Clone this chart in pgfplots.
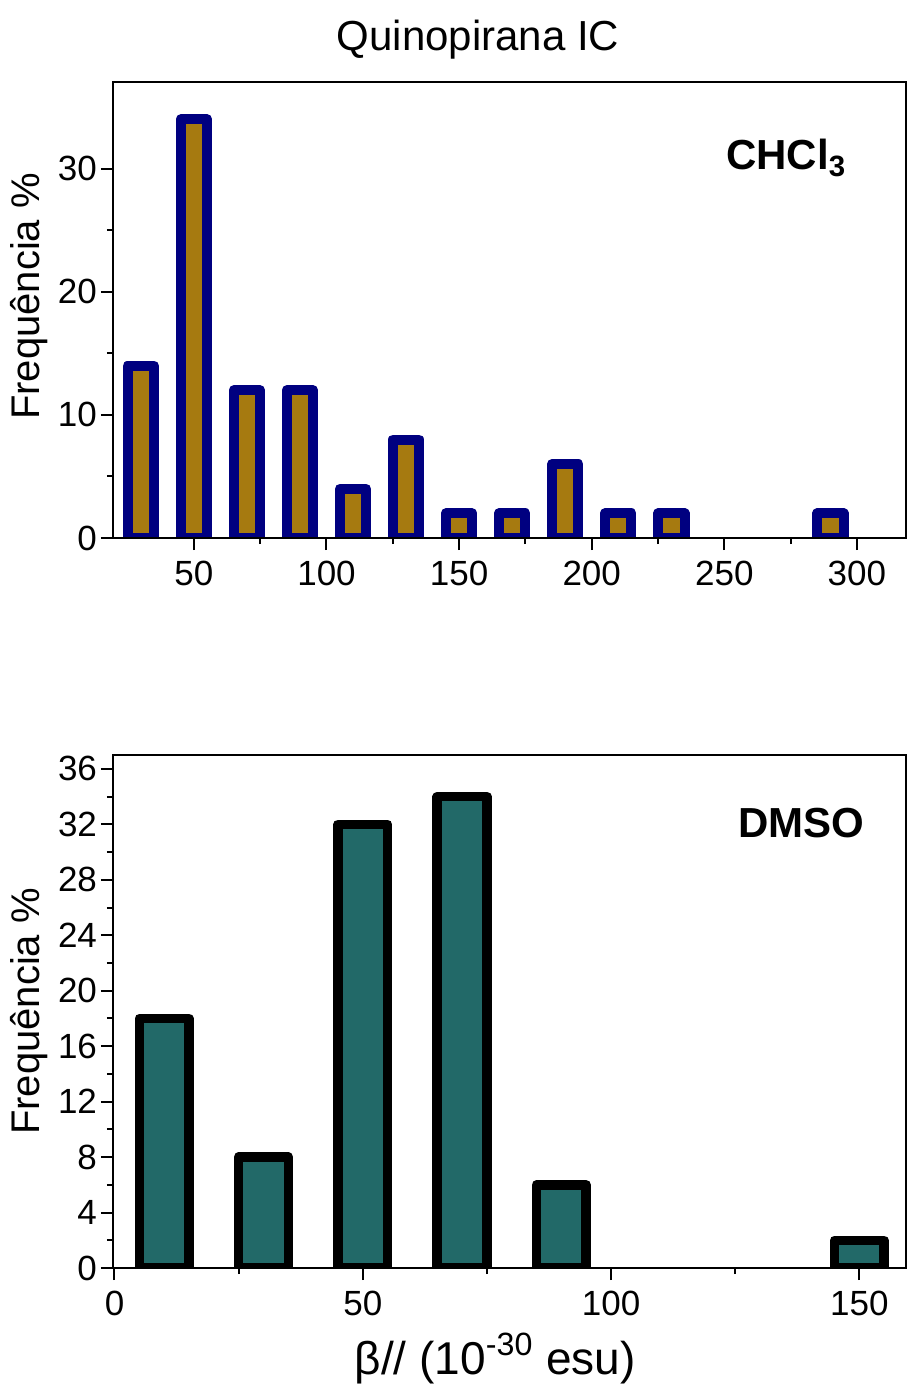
\documentclass[border=0pt]{standalone}
\usepackage{pgfplots}
\pgfplotsset{compat=1.18}
\usepackage{fontspec}
\setmainfont{Liberation Sans}

\definecolor{barnavy}{RGB}{0,0,128}
\definecolor{bargold}{RGB}{166,122,16}
\definecolor{barteal}{RGB}{34,105,104}

\pgfplotsset{
  histo/.style={
    scale only axis, width=396.5pt, axis on top,
    tick align=outside, xtick pos=left, ytick pos=left,
    major tick length=6pt, minor tick length=3pt,
    every tick/.style={line width=1pt, black},
    axis line style={line width=1pt},
    minor x tick num=1, minor y tick num=1,
    ymin=0, ymax=37,
    ybar, bar width=10,
    /pgf/number format/assume math mode=true,
    tick label style={font=\fontsize{17.5}{20}\selectfont},
    xticklabel style={yshift=-2pt},
    yticklabel style={xshift=1.5pt},
    ylabel={Frequência \%},
    % rotated label: its own y direction points to the left
    ylabel style={font=\fontsize{20}{24}\selectfont, anchor=base, yshift=36.5pt},
    scaled ticks=false,
  }
}

\begin{document}
\begin{tikzpicture}
% CHCl3 histogram
\begin{axis}[histo, height=227.8pt, at={(0,0)}, anchor=south west,
  xmin=19.5, xmax=318.5, xtick={50,100,...,300}, ytick={0,10,20,30},
  ylabel style={at={(axis description cs:0,0.53)}}]
\addplot[draw=barnavy, fill=bargold, line width=5pt, line join=round]
  coordinates {(30,14) (50,34) (70,12) (90,12) (110,4) (130,8) (150,2)
               (170,2) (190,6) (210,2) (230,2) (290,2)};
\node[anchor=base west, font=\bfseries\fontsize{21}{24}\selectfont, xshift=-3pt]
  at (rel axis cs:0.772,0.808) {CHCl\textsubscript{3}};
\end{axis}

% DMSO histogram
\begin{axis}[histo, height=256.5pt, at={(0,-365pt)}, anchor=south west,
  xmin=-0.3, xmax=159.4, xtick={0,50,100,150}, ytick={0,4,...,36},
  ylabel style={at={(axis description cs:0,0.5)}},
  xlabel={β// (10\textsuperscript{-30} esu)},
  xlabel style={font=\fontsize{23}{26}\selectfont,
    at={(axis description cs:0.482,0)}, anchor=base, yshift=-53pt}]
\addplot[draw=black, fill=barteal, line width=4.75pt, line join=round]
  coordinates {(10,18) (30,8) (50,32) (70,34) (90,6) (150,2)};
\node[anchor=base west, font=\bfseries\fontsize{21}{24}\selectfont, xshift=-3pt]
  at (rel axis cs:0.787,0.840) {DMSO};
\end{axis}

\node[anchor=base, font=\fontsize{21}{24}\selectfont] at (182.5pt,244pt) {Quinopirana IC};

\pgfresetboundingbox
\path (-56.5pt,-425.5pt) rectangle (398pt,269pt);
\end{tikzpicture}
\end{document}
